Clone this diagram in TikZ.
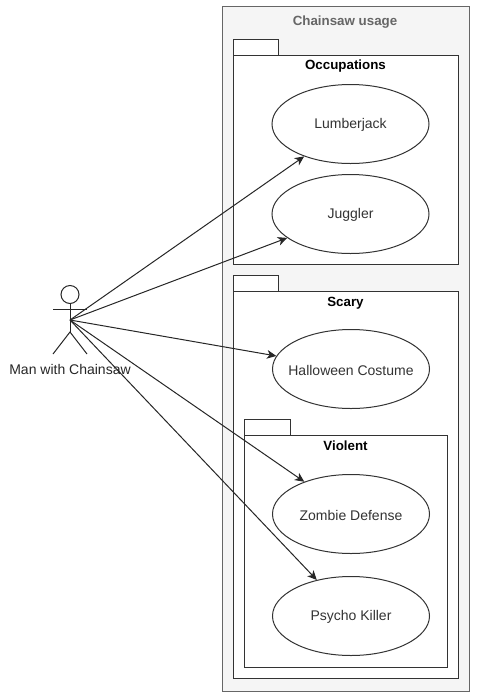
\documentclass[tikz,border=0pt]{standalone}
\usepackage{fontspec}
\setmainfont{Liberation Sans}
\usetikzlibrary{arrows.meta, shapes.geometric}
\def\px{0.75pt}

\begin{document}
\begin{tikzpicture}[
  x=0.75pt, y=-0.75pt,
  font=\fontsize{10.5pt}{12pt}\selectfont,
  line width=0.75pt,
  boundary/.style={draw=black!60, fill=black!4, inner sep=0pt, outer sep=0pt},
  pkg/.style={draw=black!80, fill=white, inner sep=0pt, outer sep=0pt},
  usecase/.style={draw=black!80, fill=white, ellipse, inner sep=0pt,
                  minimum width=157*\px, minimum height=79*\px,
                  label={[text=black!80, inner sep=0pt, yshift=-0.8pt]center:#1}},
  title/.style={font=\fontsize{10pt}{12pt}\selectfont\bfseries, inner sep=0pt},
  arr/.style={-{Stealth[length=7pt, width=6.5pt, inset=2pt]}, draw=black!85}
]
\useasboundingbox (0,0) rectangle (482,697);

%% ---------- boundary ----------
\node[boundary, minimum width=247*\px, minimum height=685*\px] (usage) at (345.5,348.5) {};
\node[title, text=black!60] (usagetitle) at (345,22.5) {Chainsaw usage};

%% ---------- occupations ----------
\node[pkg, minimum width=45*\px, minimum height=16*\px] (occtab) at (255.5,47) {};
\node[pkg, minimum width=225*\px, minimum height=209*\px] (occ) at (345.5,159.5) {};
\node[title] (occtitle) at (345.5,66.5) {Occupations};
\node[usecase=Lumberjack] (lumber) at (350.5,124) {};
\node[usecase=Juggler] (juggler) at (350.5,214) {};

%% ---------- scary ----------
\node[pkg, minimum width=45*\px, minimum height=16*\px] (scarytab) at (255.5,283) {};
\node[pkg, minimum width=225*\px, minimum height=387*\px] (scary) at (345.5,484.5) {};
\node[title] (scarytitle) at (345.5,303) {Scary};
\node[usecase=Halloween Costume] (costume) at (351,369) {};

%% ---------- violent ----------
\node[pkg, minimum width=46*\px, minimum height=16*\px] (violtab) at (267,427) {};
\node[pkg, minimum width=203*\px, minimum height=232*\px] (viol) at (345.5,551) {};
\node[title] (violtitle) at (345.5,446) {Violent};
\node[usecase=Zombie Defense] (zombie) at (351,514) {};
\node[usecase=Psycho Killer] (psycho) at (351,616) {};

%% ---------- actor ----------
\node[draw=black!85, circle, minimum size=18*\px, inner sep=0pt, outer sep=0pt] (head) at (70,294.5) {};
\coordinate (waist) at (70,320);
\coordinate (handl) at (53,309);
\coordinate (handr) at (87,309);
\coordinate (hip) at (70,332);
\coordinate (footl) at (53,354);
\coordinate (footr) at (87,354);
\draw[black!85] (head.south) -- (hip);
\draw[black!85] (handl) -- (handr);
\draw[black!85] (footl) -- (hip) -- (footr);
\node[inner sep=0pt, text=black!85] (actor) at (70,369.5) {Man with Chainsaw};

%% ---------- flow ----------
\draw[arr] (waist) -- (lumber);
\draw[arr] (waist) -- (juggler);
\draw[arr] (waist) -- (costume);
\draw[arr] (waist) -- (zombie);
\draw[arr] (waist) -- (psycho);
\end{tikzpicture}
\end{document}
